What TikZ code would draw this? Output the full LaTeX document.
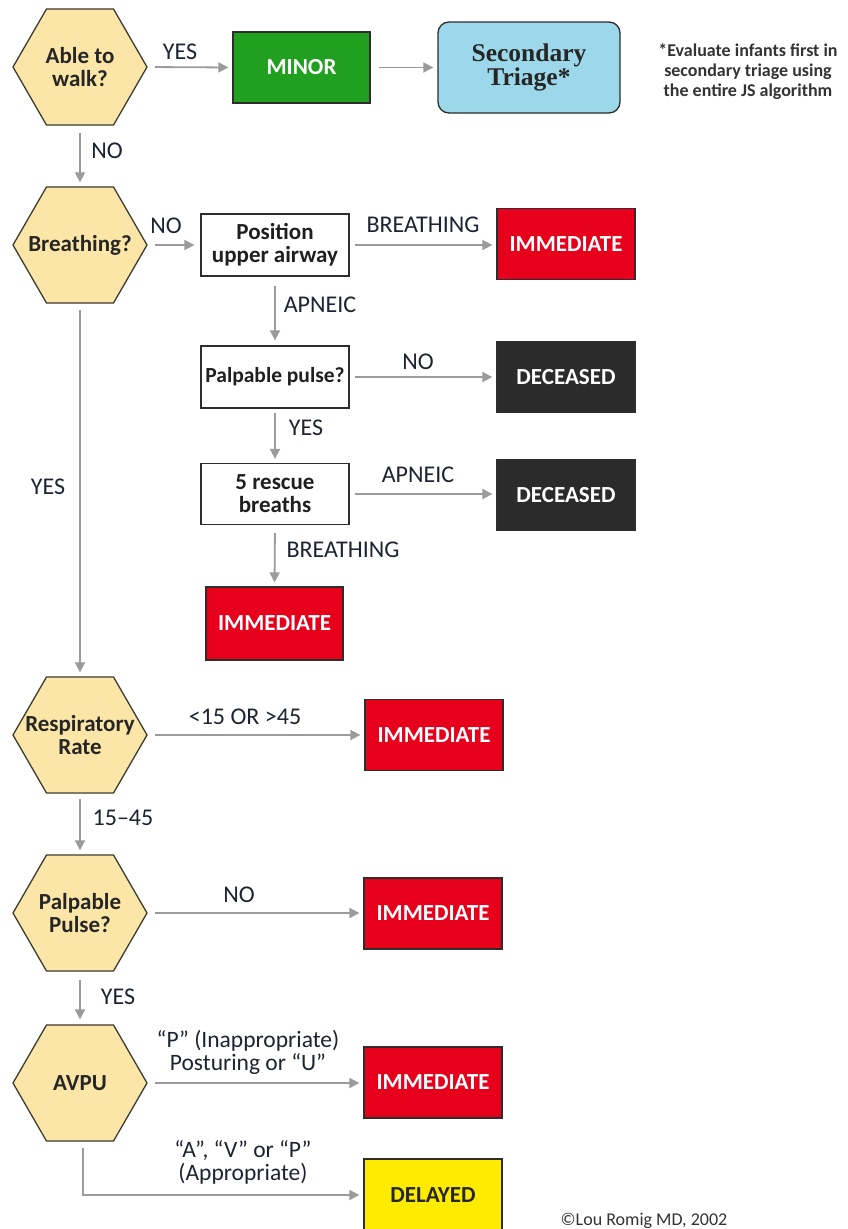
\documentclass[tikz,border=0pt]{standalone}
\usepackage{fontspec}
\setmainfont{Carlito}
\newfontfamily\serifbold{Liberation Serif}
\usetikzlibrary{arrows.meta,shapes.geometric}
\definecolor{hexfill}{RGB}{251,230,168}
\definecolor{hexline}{RGB}{60,60,48}
\definecolor{minorgreen}{RGB}{32,160,30}
\definecolor{immred}{RGB}{230,0,28}
\definecolor{decdark}{RGB}{43,43,43}
\definecolor{delyellow}{RGB}{255,235,0}
\definecolor{secblue}{RGB}{156,216,234}
\definecolor{arrgray}{RGB}{155,155,155}
\definecolor{lblcol}{RGB}{30,35,50}
\definecolor{boxline}{RGB}{45,45,45}
\begin{document}
\begin{tikzpicture}[x=1pt,y=-1pt,
  hexa/.style={regular polygon, regular polygon sides=6, minimum size=134pt,
    inner sep=0pt, fill=hexfill, draw=hexline, line width=1.3pt},
  hextxt/.style={font=\fontsize{23}{23.5}\selectfont\bfseries, text=black!85, align=center, inner sep=0pt},
  tribox/.style={rectangle, minimum width=138pt, minimum height=71pt, inner sep=0pt,
    draw=boxline, line width=1.3pt, font=\fontsize{23}{24}\selectfont\bfseries, text=white},
  stepbox/.style={rectangle, minimum width=148pt, minimum height=62pt, inner sep=0pt,
    draw=boxline, line width=1.3pt, fill=white, align=center,
    font=\fontsize{23}{23}\selectfont\bfseries, text=black!88},
  lbl/.style={font=\fontsize{24}{23.5}\selectfont, text=lblcol, align=center, inner sep=0pt},
  arr/.style={draw=arrgray, line width=1.8pt, -{Triangle[length=10pt,width=10pt]},
    shorten <=7pt, shorten >=4pt}
]
\useasboundingbox (0,0) rectangle (847,1229);
\fill[white] (0,0) rectangle (847,1229);

% hexagons
\node[hexa, label={[hextxt]center:{Able to\\walk?}}] (h1) at (80,67) {};
\node[hexa, label={[hextxt]center:{Breathing?}}] (h2) at (80,245) {};
\node[hexa, label={[hextxt]center:{Respiratory\\Rate}}] (h3) at (80,735) {};
\node[hexa, label={[hextxt]center:{Palpable\\Pulse?}}] (h4) at (80,913) {};
\node[hexa, label={[hextxt]center:{AVPU}}] (h5) at (80,1083) {};

% top row
\node[tribox, fill=minorgreen, minimum width=137pt] (minor) at (301.5,67.5) {MINOR};
\node[rectangle, rounded corners=11pt, minimum width=182pt, minimum height=91pt,
      inner sep=0pt, fill=secblue, draw=boxline, line width=1.3pt, align=center,
      font=\fontsize{25.5}{24}\selectfont\serifbold\bfseries, text=black!85] (sec) at (529,67.5) {Secondary\\Triage*};
\node[font=\fontsize{18}{20}\selectfont\bfseries, text=black!80, align=center, inner sep=0pt]
      (note) at (748,72) {*Evaluate infants first in\\secondary triage using\\the entire JS algorithm};

% breathing branch
\node[stepbox] (pos) at (275,245) {Position\\upper airway};
\node[tribox, fill=immred] (imm1) at (566,244) {IMMEDIATE};
\node[stepbox, font=\fontsize{21.5}{23}\selectfont\bfseries] (palp) at (275,377) {Palpable pulse?};
\node[tribox, fill=decdark] (dec1) at (566,377) {DECEASED};
\node[stepbox, minimum height=61pt] (resc) at (275,494) {5 rescue\\breaths};
\node[tribox, fill=decdark] (dec2) at (566,495) {DECEASED};
\node[tribox, fill=immred, minimum width=137pt, minimum height=73pt] (imm2) at (274.5,623.5) {IMMEDIATE};

% right column
\node[tribox, fill=immred] (imm3) at (434,735) {IMMEDIATE};
\node[tribox, fill=immred] (imm4) at (433,913.5) {IMMEDIATE};
\node[tribox, fill=immred] (imm5) at (433,1082.5) {IMMEDIATE};
\node[tribox, fill=delyellow, text=black!85, minimum height=72pt] (del) at (433,1195) {DELAYED};

\node[font=\fontsize{18}{20}\selectfont, text=black!80, anchor=base, inner sep=0pt] (copy) at (644,1225) {©Lou Romig MD, 2002};

% connectors
\draw[arr] (h1.east) -- (minor.west);
\draw[arr, shorten <=8pt] (minor.east) -- (sec.west);
\draw[arr] (h1.south) -- (h2.north);
\draw[arr, shorten >=6pt] (h2.east) -- (pos.west);
\draw[arr, shorten <=5pt] (pos.east) -- (imm1.west |- pos.east);
\draw[arr, shorten <=9pt, shorten >=5pt] (pos.south) -- (palp.north);
\draw[arr, shorten <=5pt] (palp.east) -- (dec1.west);
\draw[arr, shorten <=4pt] (palp.south) -- (resc.north);
\draw[arr, shorten <=5pt] (resc.east) -- (dec2.west |- resc.east);
\draw[arr, shorten <=8pt] (resc.south) -- (imm2.north);
\draw[arr, shorten <=6pt] (h2.south) -- (h3.north);
\draw[arr] (h3.east) -- (imm3.west);
\draw[arr, shorten <=5pt] (h3.south) -- (h4.north);
\draw[arr] (h4.east) -- (imm4.west |- h4.east);
\draw[arr, shorten <=8pt, shorten >=5pt] (h4.south) -- (h5.north);
\draw[arr] (h5.east) -- (imm5.west |- h5.east);
\draw[arr, shorten <=0pt] ([xshift=3pt,yshift=-6pt]h5.south) |- (del.west);

% labels
\node[lbl] (lyes1) at (180,52) {YES};
\node[lbl] (lno1) at (107,151) {NO};
\node[lbl] (lno2) at (166,226) {NO};
\node[lbl] (lbr1) at (423,225) {BREATHING};
\node[lbl] (lap1) at (320,305) {APNEIC};
\node[lbl] (lno3) at (418,362) {NO};
\node[lbl] (lyes2) at (306,428) {YES};
\node[lbl] (lap2) at (418,475) {APNEIC};
\node[lbl] (lbr2) at (343,550) {BREATHING};
\node[lbl] (lyes3) at (48,487) {YES};
\node[lbl] (lrate) at (245,717) {<15 OR >45};
\node[lbl] (l1545) at (123,818) {15–45};
\node[lbl] (lno4) at (239,895) {NO};
\node[lbl] (lyes4) at (118,997) {YES};
\node[lbl, font=\fontsize{23.5}{23}\selectfont] (lp) at (248,1052) {“P” (Inappropriate)\\Posturing or “U”};
\node[lbl, font=\fontsize{23.5}{23}\selectfont] (la) at (243,1162) {“A”, “V” or “P”\\(Appropriate)};
\end{tikzpicture}
\end{document}
